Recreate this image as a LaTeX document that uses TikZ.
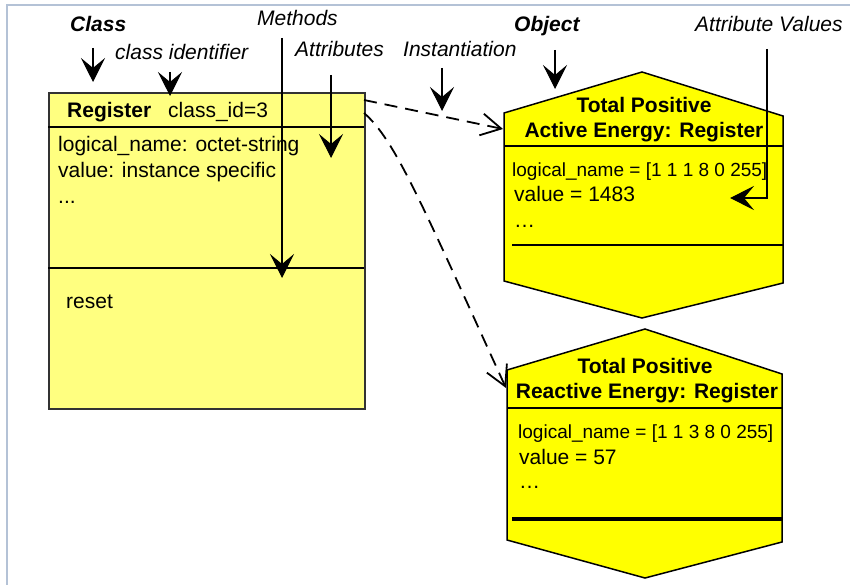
\documentclass[tikz,border=0pt]{standalone}
\usepackage{fontspec}
\setmainfont{Liberation Sans}
\usetikzlibrary{arrows.meta}
\definecolor{frame}{RGB}{180,194,214}
\definecolor{clsfill}{RGB}{255,255,128}
\definecolor{objfill}{RGB}{255,255,0}
\definecolor{ink}{gray}{0.2}

\begin{document}
\begin{tikzpicture}[x=1pt, y=-1pt,
  font=\fontsize{21}{25}\selectfont,
  txt/.style={anchor=base west, inner sep=0pt},
  small/.style={txt, font=\fontsize{19}{23}\selectfont},
  ttl/.style={anchor=base, inner sep=0pt, font=\fontsize{21}{25}\selectfont\bfseries},
  lbl/.style={anchor=base west, inner sep=0pt, font=\fontsize{21}{25}\selectfont\itshape},
  lblb/.style={lbl, font=\fontsize{21}{25}\selectfont\bfseries\itshape},
  obj/.style={draw=black, fill=objfill, line width=1.5pt, line join=miter},
  rule/.style={line width=1.6pt},
  pt/.style={-{Stealth[length=24pt,width=24pt,inset=10pt]}, line width=1.1pt},
  inst/.style={-{Straight Barb[length=20pt,width=22pt]}, line width=1.8pt,
               dash pattern=on 13pt off 8pt},
]
\useasboundingbox (0,0) rectangle (850,585);
\draw[frame, line width=2pt] (7,585) -- (7,5) -- (850,5);

% class
\node[draw=ink, fill=clsfill, line width=1.8pt, anchor=north west, inner sep=0pt,
      minimum width=316pt, minimum height=316pt] (reg) at (48,92) {};
\draw[rule] (48,127) -- (364,127);
\draw[rule] (48,268) -- (364,268);
\node[txt, font=\fontsize{21}{25}\selectfont\bfseries] (regname) at (67,118) {Register};
\node[txt] (clsid) at (168,118) {class\_id=3};
\node[txt] (attr1) at (58,152) {logical\_name: octet-string};
\node[txt] (attr2) at (58,178) {value: instance specific};
\node[txt] (attr3) at (58,204) {...};
\node[txt] (meth)  at (66,308) {reset};

% objects
\draw[obj] (642,72) -- (783,116) -- (783,283) -- (642,318) -- (504,281) -- (504,113) -- cycle;
\draw[rule] (504,146) -- (783,146);
\draw[rule] (512,245) -- (783,245);
\node[ttl] (act1) at (644,113) {Total Positive};
\node[ttl] (act2) at (644,138) {Active Energy: Register};
\node[small] (actln) at (512,177) {logical\_name = [1 1 1 8 0 255]};
\node[txt] (actval) at (514,202) {value = 1483};
\node[txt] (actdot) at (514,227) {…};

\draw[obj] (645,329) -- (782,374) -- (782,542) -- (645,578) -- (507,540) -- (507,370) -- cycle;
\draw[rule] (507,408) -- (782,408);
\draw[line width=3.5pt] (512,519) -- (782,519);
\node[ttl] (rea1) at (645,373) {Total Positive};
\node[ttl] (rea2) at (647,398) {Reactive Energy: Register};
\node[small] (realn) at (518,438) {logical\_name = [1 1 3 8 0 255]};
\node[txt] (reaval) at (519,464) {value = 57};
\node[txt] (readot) at (519,488) {…};

% labels
\node[lblb] (lblcls)  at (70,32)  {Class};
\node[lbl]  (lblcid)  at (115,60) {class identifier};
\node[lbl]  (lblmeth) at (257,26) {Methods};
\node[lbl]  (lblattr) at (295,57) {Attributes};
\node[lbl]  (lblinst) at (403,57) {Instantiation};
\node[lblb] (lblobj)  at (514,32) {Object};
\node[lbl]  (lblval)  at (695,32) {Attribute Values};

\coordinate (clsA)  at (93,48);   \coordinate (clsB)  at (93,82);
\coordinate (cidA)  at (170,72);  \coordinate (cidB)  at (170,96);
\coordinate (methA) at (282,38);  \coordinate (methB) at (282,278);
\coordinate (attrA) at (331,75);  \coordinate (attrB) at (331,158);
\coordinate (instA) at (442,68);  \coordinate (instB) at (442,111);
\coordinate (objA)  at (555,50);  \coordinate (objB)  at (555,89);
\coordinate (valA)  at (767,49);  \coordinate (valB)  at (730,198);
\coordinate (regA)  at (364,100); \coordinate (regB)  at (364,113);
\coordinate (actin) at (503,129); \coordinate (reain) at (506,388);

\draw[pt] (clsA)  -- (clsB);
\draw[pt] (cidA)  -- (cidB);
\draw[pt] (methA) -- (methB);
\draw[pt] (attrA) -- (attrB);
\draw[pt] (instA) -- (instB);
\draw[pt] (objA)  -- (objB);
\draw[pt] (valA)  |- (valB);

\draw[inst] (regA) -- (actin);
\draw[inst] (regB) .. controls (395,140) and (420,200) .. (reain);
\end{tikzpicture}
\end{document}
